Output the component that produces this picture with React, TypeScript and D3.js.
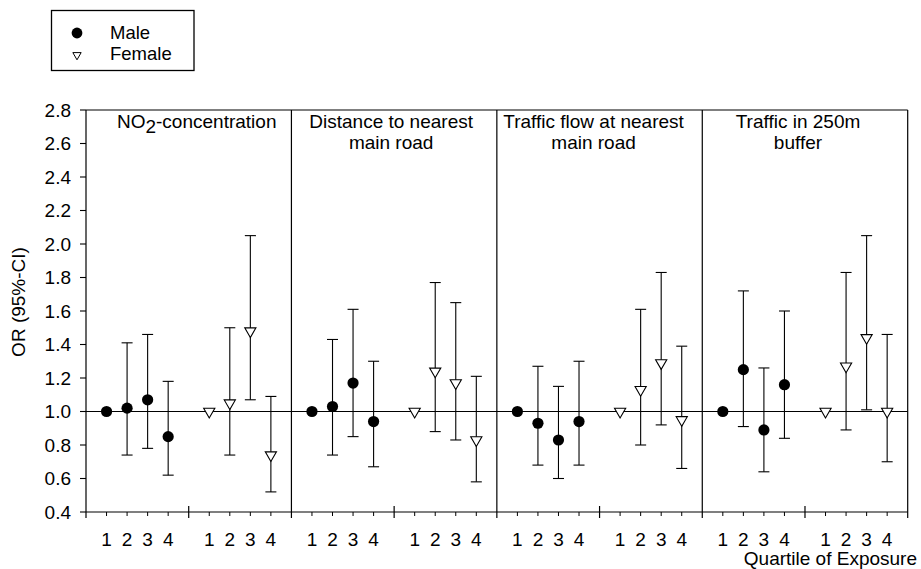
import React from "react";
import * as d3 from "d3";

// ---- data ----
const panelTitles: string[][] = [
  ["NO|2|-concentration"],
  ["Distance to nearest", "main road"],
  ["Traffic flow at nearest", "main road"],
  ["Traffic in 250m", "buffer"],
];
const quartileLabels = ["1", "2", "3", "4"];
const yTickValues = [0.4, 0.6, 0.8, 1.0, 1.2, 1.4, 1.6, 1.8, 2.0, 2.2, 2.4, 2.6, 2.8];
const seriesNames = ["Male", "Female"];

const maleOR = [
  [1.0, 1.02, 1.07, 0.85],
  [1.0, 1.03, 1.17, 0.94],
  [1.0, 0.93, 0.83, 0.94],
  [1.0, 1.25, 0.89, 1.16],
];
const maleLower = [
  [null, 0.74, 0.78, 0.62],
  [null, 0.74, 0.85, 0.67],
  [null, 0.68, 0.6, 0.68],
  [null, 0.91, 0.64, 0.84],
];
const maleUpper = [
  [null, 1.41, 1.46, 1.18],
  [null, 1.43, 1.61, 1.3],
  [null, 1.27, 1.15, 1.3],
  [null, 1.72, 1.26, 1.6],
];
const femaleOR = [
  [1.0, 1.05, 1.48, 0.74],
  [1.0, 1.24, 1.17, 0.83],
  [1.0, 1.13, 1.29, 0.95],
  [1.0, 1.27, 1.44, 1.0],
];
const femaleLower = [
  [null, 0.74, 1.07, 0.52],
  [null, 0.88, 0.83, 0.58],
  [null, 0.8, 0.92, 0.66],
  [null, 0.89, 1.01, 0.7],
];
const femaleUpper = [
  [null, 1.5, 2.05, 1.09],
  [null, 1.77, 1.65, 1.21],
  [null, 1.61, 1.83, 1.39],
  [null, 1.83, 2.05, 1.46],
];

const yTitle = "OR (95%-CI)";
const xTitle = "Quartile of Exposure";

// ---- layout ----
const W = 921;
const H = 569;
const left = 86;
const right = 907.7;
const top = 110;
const bottom = 512;
const FONT = "'Liberation Sans', Arial, Helvetica, sans-serif";
const FS = 19;
const titleDx = [8, -3, -6, -7];

export default function App() {
  const x = d3.scaleLinear().domain([0, 40]).range([left, right]);
  const y = d3.scaleLinear().domain([0.4, 2.8]).range([bottom, top]);
  const tri = d3.symbol(d3.symbolTriangle, 54)() as string;
  const triLegend = d3.symbol(d3.symbolTriangle, 30)() as string;
  const capHalf = 5.5;

  const groups = [
    { or: maleOR, lo: maleLower, hi: maleUpper, offset: 1, kind: "circle" },
    { or: femaleOR, lo: femaleLower, hi: femaleUpper, offset: 6, kind: "tri" },
  ];

  const elems: React.ReactNode[] = [];

  panelTitles.forEach((lines, p) => {
    const cx = (x(p * 10) + x(p * 10 + 10)) / 2 + titleDx[p];
    lines.forEach((ln, i) => {
      const parts = ln.split("|");
      elems.push(
        <text key={`t${p}-${i}`} x={cx} y={128 + i * 20.5} textAnchor="middle" fontSize={FS} fontFamily={FONT}>
          {parts.length === 3 ? (
            <>
              {parts[0]}
              <tspan dy={5}>{parts[1]}</tspan>
              <tspan dy={-5}>{parts[2]}</tspan>
            </>
          ) : (
            ln
          )}
        </text>
      );
    });
    groups.forEach((g, gi) => {
      quartileLabels.forEach((lab, q) => {
        const xx = x(p * 10 + g.offset + q);
        elems.push(<line key={`mt${p}-${gi}-${q}`} x1={xx} x2={xx} y1={bottom} y2={bottom + 4} stroke="#000" strokeWidth={1} />);
        elems.push(
          <text key={`xl${p}-${gi}-${q}`} x={xx} y={546} textAnchor="middle" fontSize={FS} fontFamily={FONT}>
            {lab}
          </text>
        );
      });
    });
    const xm = x(p * 10 + 5);
    elems.push(<line key={`mj${p}`} x1={xm} x2={xm} y1={bottom - 6} y2={bottom + 6} stroke="#000" strokeWidth={1.2} />);
  });

  [0, 10, 20, 30, 40].forEach((v) => {
    const xx = x(v);
    elems.push(<line key={`pb${v}`} x1={xx} x2={xx} y1={top} y2={bottom + 6} stroke="#000" strokeWidth={1.2} />);
  });

  const markers: React.ReactNode[] = [];
  panelTitles.forEach((_, p) => {
    groups.forEach((g, gi) => {
      g.or[p].forEach((v, q) => {
        const xx = x(p * 10 + g.offset + q);
        const lo = g.lo[p][q];
        const hi = g.hi[p][q];
        if (lo != null && hi != null) {
          elems.push(
            <g key={`eb${p}-${gi}-${q}`} stroke="#000" strokeWidth={1.1}>
              <line x1={xx} x2={xx} y1={y(lo)} y2={y(hi)} />
              <line x1={xx - capHalf} x2={xx + capHalf} y1={y(hi)} y2={y(hi)} />
              <line x1={xx - capHalf} x2={xx + capHalf} y1={y(lo)} y2={y(lo)} />
            </g>
          );
        }
        if (g.kind === "circle") {
          markers.push(<circle key={`m${p}-${gi}-${q}`} cx={xx} cy={y(v)} r={5.6} fill="#000" />);
        } else {
          markers.push(
            <path
              key={`m${p}-${gi}-${q}`}
              d={tri}
              transform={`translate(${xx},${y(v)}) rotate(180)`}
              fill="#fff"
              stroke="#000"
              strokeWidth={1.1}
            />
          );
        }
      });
    });
  });

  return (
    <svg width={W} height={H} style={{ position: "absolute", left: 0, top: 0, background: "#fff" }}>
      <rect x={0} y={0} width={W} height={H} fill="#fff" />
      <line x1={left} x2={right} y1={top} y2={top} stroke="#000" strokeWidth={1.2} />
      <line x1={left} x2={right} y1={bottom} y2={bottom} stroke="#000" strokeWidth={1.2} />
      <line x1={left} x2={right} y1={y(1)} y2={y(1)} stroke="#000" strokeWidth={1.2} />
      {yTickValues.map((v) => (
        <g key={`yt${v}`}>
          <line x1={left - 6} x2={left} y1={y(v)} y2={y(v)} stroke="#000" strokeWidth={1.1} />
          <text x={71} y={y(v)} dy="0.36em" textAnchor="end" fontSize={FS} fontFamily={FONT}>
            {v.toFixed(1)}
          </text>
        </g>
      ))}
      <text transform={`translate(25,302) rotate(-90)`} textAnchor="middle" fontSize={FS} fontFamily={FONT}>
        {yTitle}
      </text>
      {elems}
      {markers}
      <text x={917} y={565} textAnchor="end" fontSize={FS} fontFamily={FONT}>
        {xTitle}
      </text>
      <rect x={51.5} y={10.5} width={142.5} height={60} fill="#fff" stroke="#000" strokeWidth={1.3} />
      <circle cx={77} cy={33} r={5.4} fill="#000" />
      <path d={triLegend} transform={`translate(77,55) rotate(180)`} fill="#fff" stroke="#000" strokeWidth={1} />
      <text x={110} y={39} fontSize={18.5} fontFamily={FONT}>
        {seriesNames[0]}
      </text>
      <text x={110} y={60} fontSize={18.5} fontFamily={FONT}>
        {seriesNames[1]}
      </text>
    </svg>
  );
}
